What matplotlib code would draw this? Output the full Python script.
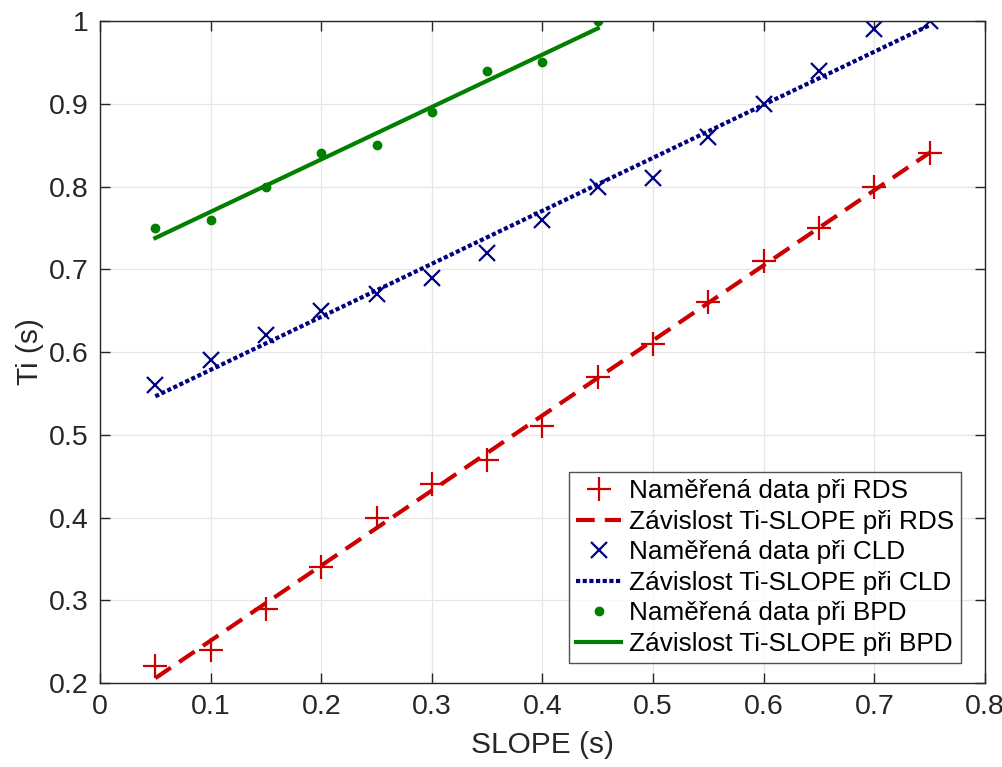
import numpy as np
import matplotlib
matplotlib.use("Agg")
import matplotlib.pyplot as plt

plt.rcParams['font.family'] = ['Liberation Sans', 'DejaVu Sans']

# naměřená data
slope_rds = [0.05, 0.10, 0.15, 0.20, 0.25, 0.30, 0.35, 0.40, 0.45, 0.50, 0.55, 0.60, 0.65, 0.70, 0.75]
ti_rds = [0.22, 0.24, 0.29, 0.34, 0.40, 0.44, 0.47, 0.51, 0.57, 0.61, 0.66, 0.71, 0.75, 0.80, 0.84]

slope_cld = [0.05, 0.10, 0.15, 0.20, 0.25, 0.30, 0.35, 0.40, 0.45, 0.50, 0.55, 0.60, 0.65, 0.70, 0.75]
ti_cld = [0.56, 0.59, 0.62, 0.65, 0.67, 0.69, 0.72, 0.76, 0.80, 0.81, 0.86, 0.90, 0.94, 0.99, 1.00]

slope_bpd = [0.05, 0.10, 0.15, 0.20, 0.25, 0.30, 0.35, 0.40, 0.45]
ti_bpd = [0.75, 0.76, 0.80, 0.84, 0.85, 0.89, 0.94, 0.95, 1.00]

red = '#cc0000'
navy = '#000080'
green = '#007f00'

fig = plt.figure(figsize=(10.03, 7.67), dpi=100)
ax = fig.add_axes([0.0997, 0.1095, 0.8823, 0.8631])


def fit(x, y):
    p = np.polyfit(x, y, 1)
    xx = np.array([min(x), max(x)])
    return xx, np.polyval(p, xx)


ax.plot(slope_rds, ti_rds, '+', color=red, ms=17, mew=1.6, label='Naměřená data při RDS')
xf, yf = fit(slope_rds, ti_rds)
ax.plot(xf, yf, '--', color=red, lw=3, dashes=(4.5, 2.4), label='Závislost Ti-SLOPE při RDS')

ax.plot(slope_cld, ti_cld, 'x', color=navy, ms=12, mew=1.6, label='Naměřená data při CLD')
xf, yf = fit(slope_cld, ti_cld)
ax.plot(xf, yf, ':', color=navy, lw=3, dashes=(1, 0.6), label='Závislost Ti-SLOPE při CLD')

ax.plot(slope_bpd, ti_bpd, '.', color=green, ms=12, label='Naměřená data při BPD')
xf, yf = fit(slope_bpd, ti_bpd)
ax.plot(xf, yf, '-', color=green, lw=3, label='Závislost Ti-SLOPE při BPD')

ax.set_xlim(0, 0.8)
ax.set_ylim(0.2, 1)
ax.set_xticks(np.arange(0, 0.81, 0.1))
ax.set_yticks(np.arange(0.2, 1.01, 0.1))
ax.set_xticklabels(['0', '0.1', '0.2', '0.3', '0.4', '0.5', '0.6', '0.7', '0.8'])
ax.set_yticklabels(['0.2', '0.3', '0.4', '0.5', '0.6', '0.7', '0.8', '0.9', '1'])
ax.grid(True, color='#e6e6e6', lw=0.9)
ax.set_axisbelow(True)
ax.tick_params(direction='in', length=7, width=1, colors='#262626', labelsize=20.5,
               top=True, right=True, pad=8)
for s in ax.spines.values():
    s.set_color('#262626')
    s.set_linewidth(1)

ax.set_xlabel('SLOPE (s)', fontsize=21.5, color='#262626', labelpad=8)
ax.set_ylabel('Ti (s)', fontsize=21.5, color='#262626', labelpad=4)

leg = ax.legend(loc='lower right', bbox_to_anchor=(0.973, 0.03), fontsize=18.8, frameon=True,
                fancybox=False, edgecolor='#262626', handlelength=1.7, handletextpad=0.3,
                labelspacing=0.25, borderpad=0.28, borderaxespad=0)
leg.get_frame().set_linewidth(1)

fig.savefig('out.png', dpi=100)
